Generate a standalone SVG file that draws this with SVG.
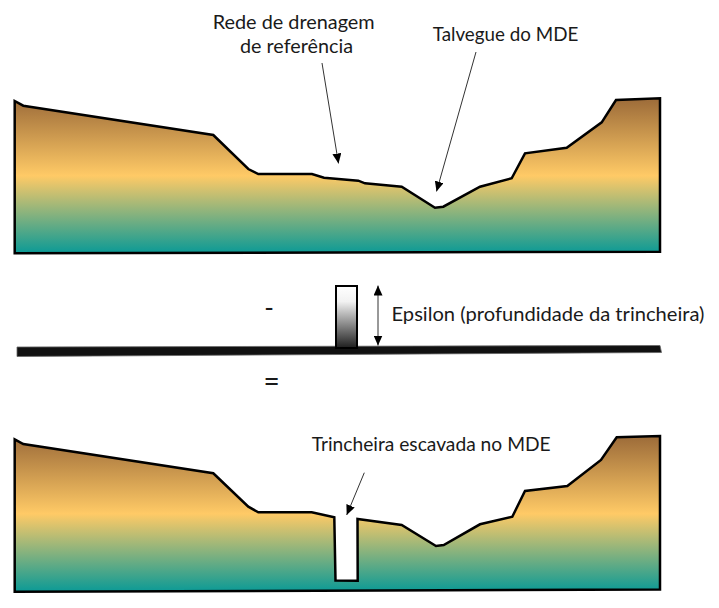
<svg xmlns="http://www.w3.org/2000/svg" width="719" height="608" viewBox="0 0 719 608">
  <style>
    .terrain { fill: url(#soil); stroke: #000; stroke-width: 2.5; stroke-linejoin: miter; }
    .lbl { font-family: Lato, "Liberation Sans", Arial, sans-serif; font-size: 20px; fill: #1a1a1a; }
    .op { font-family: Lato, "Liberation Sans", Arial, sans-serif; fill: #1a1a1a; text-anchor: middle; }
    .conn { stroke: #333; stroke-width: 1; fill: none; }
  </style>
  <defs>
    <linearGradient id="soil" x1="0" y1="0" x2="0" y2="1">
      <stop offset="0" stop-color="#9c6b39"/>
      <stop offset="0.5" stop-color="#ffca66"/>
      <stop offset="1" stop-color="#0b9a96"/>
    </linearGradient>
    <linearGradient id="trench" x1="0" y1="0" x2="0" y2="1">
      <stop offset="0" stop-color="#ffffff"/>
      <stop offset="0.25" stop-color="#f2f2f2"/>
      <stop offset="1" stop-color="#1e1e1e"/>
    </linearGradient>
    <marker id="ah" markerUnits="userSpaceOnUse" markerWidth="10" markerHeight="9" refX="10" refY="4.5" orient="auto-start-reverse">
      <path d="M0,0 L10,4.5 L0,9 Z" fill="#000"/>
    </marker>
  </defs>

  <g id="terrain-top">
    <path class="terrain" d="M14.7,253.3 L14.7,101 L23.3,105.7 L213.3,135 L248.3,169 L258.3,174 L312,174 L324,177.7 L358.3,180.7 L365,183.3 L401.7,186.7 L435,207.7 L443.3,206.7 L480,186.7 L511.7,178.3 L525,153.3 L566.7,147.7 L601.7,122.3 L616,100 L660,98.3 L660,251.7 Z"/>
  </g>

  <g id="trench-profile">
    <path d="M17,347 L660,345.5 L661.5,352.5 L17,356.5 Z" fill="#111" stroke="#666" stroke-width="0.8"/>
    <rect x="336" y="286" width="21" height="62" fill="url(#trench)" stroke="#000" stroke-width="2"/>
  </g>

  <g id="terrain-bottom">
    <path class="terrain" d="M14.7,591.7 L14.7,439.3 L23.3,444 L213.3,473.3 L248.3,506.7 L258.3,512.3 L311.7,512.3 L334.3,517.3 L335.5,580.5 L357.7,580.7 L357.5,519 L401.7,525 L436,546 L443.7,545 L480,524.3 L512.3,516.7 L525,491 L567.3,486 L601,460 L616.7,437.3 L660,436 L660,589.5 Z"/>
  </g>

  <g id="connectors">
    <line class="conn" x1="322" y1="63" x2="338.5" y2="163.5" marker-end="url(#ah)"/>
    <line class="conn" x1="476" y1="52" x2="436.5" y2="191.5" marker-end="url(#ah)"/>
    <line class="conn" x1="378" y1="285.5" x2="378" y2="345.5" marker-start="url(#ah)" marker-end="url(#ah)"/>
    <line class="conn" x1="364.3" y1="472.7" x2="346.7" y2="515" marker-end="url(#ah)"/>
  </g>

  <g id="labels">
    <text class="lbl" x="212.7" y="28.5" textLength="162" lengthAdjust="spacingAndGlyphs">Rede de drenagem</text>
    <text class="lbl" x="240" y="53" textLength="113" lengthAdjust="spacingAndGlyphs">de referência</text>
    <text class="lbl" x="432.7" y="41" textLength="145.6" lengthAdjust="spacingAndGlyphs">Talvegue do MDE</text>
    <text class="lbl" x="391.5" y="321" textLength="313" lengthAdjust="spacingAndGlyphs">Epsilon (profundidade da trincheira)</text>
    <text class="lbl" x="311.7" y="451" textLength="239" lengthAdjust="spacingAndGlyphs">Trincheira escavada no MDE</text>
    <text class="op" x="269" y="317" font-size="26">-</text>
    <text class="op" x="271.5" y="391" font-size="28">=</text>
  </g>
</svg>
